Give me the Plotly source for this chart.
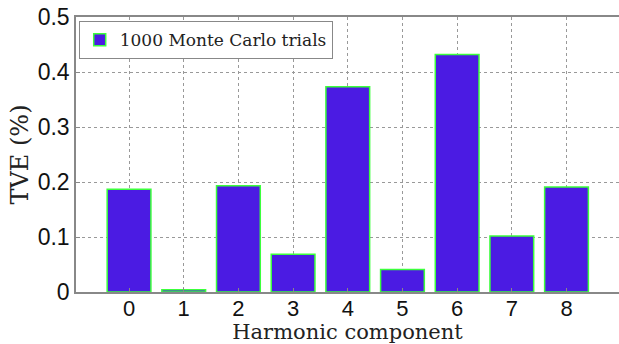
import plotly.graph_objects as go

harmonics = [0, 1, 2, 3, 4, 5, 6, 7, 8]
tve = [0.187, 0.004, 0.193, 0.0685, 0.373, 0.041, 0.432, 0.102, 0.191]
series_name = "1000 Monte Carlo trials"
y_ticks = [0, 0.1, 0.2, 0.3, 0.4, 0.5]
y_tick_labels = ["0", "0.1", "0.2", "0.3", "0.4", "0.5"]

fig = go.Figure()
fig.add_trace(go.Bar(
    x=harmonics, y=tve, name=series_name, width=0.8,
    marker=dict(color="#4B1BE3", line=dict(color="#3CFF3C", width=1.5)),
    showlegend=True,
))

fig.update_layout(
    width=619, height=344,
    margin=dict(l=76, r=0, t=17, b=52),
    plot_bgcolor="white", paper_bgcolor="white",
    showlegend=True,
    legend=dict(x=0.005, y=0.985, xanchor="left", yanchor="top",
                bordercolor="#888888", borderwidth=1, bgcolor="white",
                font=dict(family="DejaVu Serif", size=17, color="#222"),
                itemwidth=30, tracegroupgap=0),
    bargap=0.2,
)
fig.update_xaxes(
    range=[-0.97, 8.96], tickvals=harmonics, ticktext=[str(h) for h in harmonics],
    showgrid=True, gridcolor="#999999", griddash="dot", gridwidth=1,
    showline=True, linecolor="#888888", linewidth=1.5, mirror=True,
    ticks="inside", ticklen=4, tickcolor="#888888", ticklabelstandoff=-4,
    tickfont=dict(family="Liberation Sans", size=22, color="#111"),
    title=dict(text="Harmonic component", standoff=0,
               font=dict(family="DejaVu Serif", size=21, color="#222")),
    zeroline=False, automargin=False,
)
fig.update_yaxes(
    range=[0, 0.5], tickvals=y_ticks, ticktext=y_tick_labels,
    showgrid=True, gridcolor="#999999", griddash="dot", gridwidth=1,
    showline=True, linecolor="#888888", linewidth=1.5, mirror=True,
    ticks="inside", ticklen=4, tickcolor="#888888",
    tickfont=dict(family="Liberation Sans", size=23, color="#111"),
    title=dict(text="TVE (%)", standoff=2,
               font=dict(family="DejaVu Serif", size=24, color="#222")),
    zeroline=False, automargin=False,
)

fig.write_html(
    "out.html",
    config={"displayModeBar": False},
    post_script="document.body.style.margin='0';document.body.style.overflow='hidden';",
)
